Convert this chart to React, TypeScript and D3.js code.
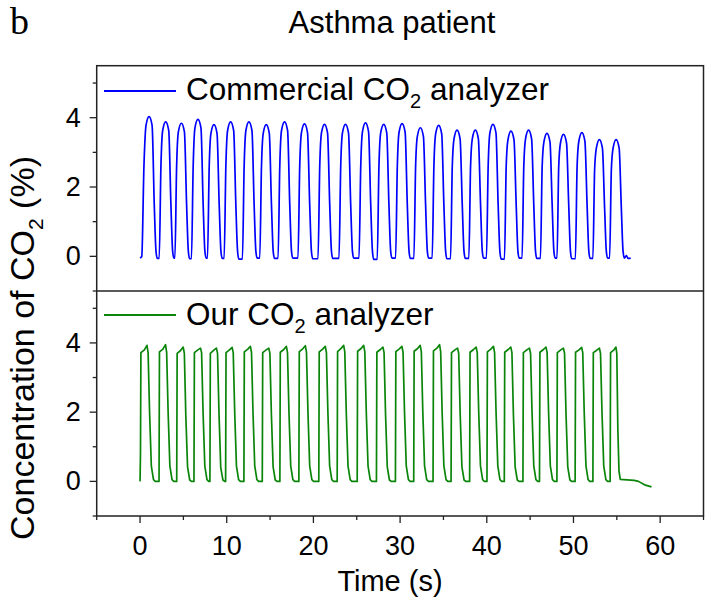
import React from 'react'
import { scaleLinear, line, curveMonotoneX, curveLinear } from 'd3'

// Ticks
const timeTicks = [0, 10, 20, 30, 40, 50, 60]
const timeMinor = [-5, 5, 15, 25, 35, 45, 55, 65]
const concTicks = [0, 2, 4]
const concMinor = [-1, 1, 3, 5]

// Commercial analyzer (blue), [time s, CO2 %]
const commercialCO2 = [
  [0, -0.05], [0.2, 0], [0.45, 2.6], [0.69, 3.78], [1.04, 4.03], [1.39, 3.78], [1.64, 1.5], [1.84, 0.15], [1.99, -0.06],
  [2.21, -0.06], [2.41, 2.6], [2.61, 3.63], [2.96, 3.88], [3.31, 3.63], [3.56, 1.5], [3.76, 0.15], [3.91, -0.05],
  [4.02, -0.05], [4.22, 2.6], [4.42, 3.59], [4.77, 3.84], [5.12, 3.59], [5.37, 1.5], [5.57, 0.15], [5.72, -0.07],
  [5.93, -0.07], [6.13, 2.6], [6.33, 3.7], [6.68, 3.95], [7.03, 3.7], [7.28, 1.5], [7.48, 0.15], [7.63, -0.05],
  [7.78, -0.05], [7.98, 2.6], [8.18, 3.55], [8.53, 3.8], [8.88, 3.55], [9.13, 1.5], [9.33, 0.15], [9.48, -0.06],
  [9.7, -0.06], [9.9, 2.6], [10.1, 3.63], [10.45, 3.88], [10.8, 3.63], [11.05, 1.5], [11.25, 0.15], [11.4, -0.08],
  [11.81, -0.08], [12.01, 2.6], [12.21, 3.63], [12.56, 3.88], [12.91, 3.63], [13.16, 1.5], [13.36, 0.15], [13.51, -0.05],
  [13.81, -0.05], [14.01, 2.6], [14.21, 3.55], [14.56, 3.8], [14.91, 3.55], [15.16, 1.5], [15.36, 0.15], [15.51, -0.06],
  [15.92, -0.06], [16.12, 2.6], [16.32, 3.63], [16.67, 3.88], [17.02, 3.63], [17.27, 1.5], [17.47, 0.15], [17.62, -0.05],
  [18.22, -0.05], [18.42, 2.6], [18.62, 3.57], [18.97, 3.82], [19.32, 3.57], [19.57, 1.5], [19.77, 0.15], [19.92, -0.07],
  [20.53, -0.07], [20.73, 2.6], [20.93, 3.56], [21.28, 3.81], [21.63, 3.56], [21.88, 1.5], [22.08, 0.15], [22.23, -0.06],
  [22.95, -0.06], [23.15, 2.6], [23.35, 3.56], [23.7, 3.81], [24.05, 3.56], [24.3, 1.5], [24.5, 0.15], [24.65, -0.05],
  [25.26, -0.05], [25.46, 2.6], [25.66, 3.6], [26.01, 3.85], [26.36, 3.6], [26.61, 1.5], [26.81, 0.15], [26.96, -0.09],
  [27.36, -0.09], [27.56, 2.6], [27.76, 3.56], [28.11, 3.81], [28.46, 3.56], [28.71, 1.5], [28.91, 0.15], [29.06, -0.05],
  [29.48, -0.05], [29.68, 2.6], [29.88, 3.58], [30.23, 3.83], [30.58, 3.58], [30.83, 1.5], [31.03, 0.15], [31.18, -0.06],
  [31.59, -0.06], [31.79, 2.6], [31.99, 3.46], [32.34, 3.71], [32.69, 3.46], [32.94, 1.5], [33.14, 0.15], [33.29, -0.05],
  [33.7, -0.05], [33.9, 2.6], [34.1, 3.53], [34.45, 3.78], [34.8, 3.53], [35.05, 1.5], [35.25, 0.15], [35.4, -0.07],
  [35.82, -0.07], [36.02, 2.6], [36.22, 3.39], [36.57, 3.64], [36.92, 3.39], [37.17, 1.5], [37.37, 0.15], [37.52, -0.06],
  [37.93, -0.06], [38.13, 2.6], [38.33, 3.39], [38.68, 3.64], [39.03, 3.39], [39.28, 1.5], [39.48, 0.15], [39.63, -0.05],
  [39.96, -0.05], [40.16, 2.6], [40.36, 3.56], [40.71, 3.81], [41.06, 3.56], [41.31, 1.5], [41.51, 0.15], [41.66, -0.08],
  [42.04, -0.08], [42.24, 2.6], [42.44, 3.36], [42.79, 3.61], [43.14, 3.36], [43.39, 1.5], [43.59, 0.15], [43.74, -0.05],
  [44.07, -0.05], [44.27, 2.6], [44.47, 3.39], [44.82, 3.64], [45.17, 3.39], [45.42, 1.5], [45.62, 0.15], [45.77, -0.06],
  [46.19, -0.06], [46.39, 2.6], [46.59, 3.3], [46.94, 3.55], [47.29, 3.3], [47.54, 1.5], [47.74, 0.15], [47.89, -0.05],
  [48.1, -0.05], [48.3, 2.6], [48.5, 3.27], [48.85, 3.52], [49.2, 3.27], [49.45, 1.5], [49.65, 0.15], [49.8, -0.07],
  [50.22, -0.07], [50.42, 2.6], [50.62, 3.32], [50.97, 3.57], [51.32, 3.32], [51.57, 1.5], [51.77, 0.15], [51.92, -0.06],
  [52.24, -0.06], [52.44, 2.5], [52.64, 3.12], [52.99, 3.37], [53.34, 3.12], [53.59, 1.4], [53.79, 0.15], [53.94, -0.05],
  [54.17, -0.05], [54.37, 2.5], [54.57, 3.12], [54.92, 3.37], [55.27, 3.12], [55.52, 1.4], [55.72, 0.15], [55.87, -0.05],
  [56.1, 0.02], [56.3, -0.06], [56.6, -0.05],
]

// Our analyzer (green)
const ourCO2 = [
  [0, 0], [0.05, 0.8], [0.1, 3.72], [0.5, 3.8], [0.8, 3.93], [0.93, 3.72], [1.1, 2.0], [1.3, 0.45], [1.55, 0.05], [1.75, 0],
  [2.19, 0], [2.24, 3.74], [2.64, 3.82], [2.94, 3.95], [3.07, 3.72], [3.24, 2.0], [3.44, 0.45], [3.69, 0.05], [3.89, 0],
  [4.23, 0], [4.28, 3.7], [4.68, 3.78], [4.98, 3.88], [5.11, 3.7], [5.28, 1.9], [5.48, 0.42], [5.73, 0.04], [5.93, 0],
  [6.22, 0], [6.27, 3.72], [6.67, 3.8], [6.97, 3.85], [7.1, 3.72], [7.27, 2.0], [7.47, 0.45], [7.72, 0.05], [7.92, 0],
  [8.06, 0], [8.11, 3.7], [8.51, 3.79], [8.81, 3.85], [8.94, 3.7], [9.11, 1.95], [9.31, 0.4], [9.56, 0.04], [9.76, 0],
  [9.87, 0], [9.92, 3.72], [10.32, 3.8], [10.62, 3.87], [10.75, 3.72], [10.92, 2.0], [11.12, 0.45], [11.37, 0.05], [11.57, 0],
  [11.98, 0], [12.03, 3.74], [12.43, 3.82], [12.73, 3.9], [12.86, 3.72], [13.03, 2.0], [13.23, 0.45], [13.48, 0.05], [13.68, 0],
  [14.1, 0], [14.15, 3.72], [14.55, 3.8], [14.85, 3.85], [14.98, 3.7], [15.15, 1.95], [15.35, 0.42], [15.6, 0.04], [15.8, 0],
  [16.13, 0], [16.18, 3.73], [16.58, 3.81], [16.88, 3.9], [17.01, 3.72], [17.18, 2.0], [17.38, 0.45], [17.63, 0.05], [17.83, 0],
  [18.32, 0], [18.37, 3.75], [18.77, 3.83], [19.07, 3.92], [19.2, 3.73], [19.37, 2.0], [19.57, 0.45], [19.82, 0.05], [20.02, 0],
  [20.62, 0], [20.67, 3.74], [21.07, 3.82], [21.37, 3.9], [21.5, 3.72], [21.67, 2.0], [21.87, 0.45], [22.12, 0.05], [22.32, 0],
  [22.74, 0], [22.79, 3.75], [23.19, 3.84], [23.49, 3.93], [23.62, 3.74], [23.79, 2.0], [23.99, 0.45], [24.24, 0.05], [24.44, 0],
  [25.05, 0], [25.1, 3.76], [25.5, 3.84], [25.8, 3.93], [25.93, 3.74], [26.1, 2.0], [26.3, 0.45], [26.55, 0.05], [26.75, 0],
  [27.27, 0], [27.32, 3.73], [27.72, 3.81], [28.02, 3.88], [28.15, 3.72], [28.32, 1.95], [28.52, 0.42], [28.77, 0.04], [28.97, 0],
  [29.46, 0], [29.51, 3.75], [29.91, 3.83], [30.21, 3.9], [30.34, 3.73], [30.51, 2.0], [30.71, 0.45], [30.96, 0.05], [31.16, 0],
  [31.57, 0], [31.62, 3.76], [32.02, 3.84], [32.32, 3.93], [32.45, 3.74], [32.62, 2.0], [32.82, 0.45], [33.07, 0.05], [33.27, 0],
  [33.8, 0], [33.85, 3.77], [34.25, 3.85], [34.55, 3.95], [34.68, 3.75], [34.85, 2.0], [35.05, 0.45], [35.3, 0.05], [35.5, 0],
  [35.88, 0], [35.93, 3.72], [36.33, 3.8], [36.63, 3.85], [36.76, 3.7], [36.93, 1.95], [37.13, 0.42], [37.38, 0.04], [37.58, 0],
  [38.02, 0], [38.07, 3.73], [38.47, 3.81], [38.77, 3.88], [38.9, 3.72], [39.07, 2.0], [39.27, 0.45], [39.52, 0.05], [39.72, 0],
  [40.02, 0], [40.07, 3.74], [40.47, 3.82], [40.77, 3.9], [40.9, 3.72], [41.07, 2.0], [41.27, 0.45], [41.52, 0.05], [41.72, 0],
  [42.02, 0], [42.07, 3.73], [42.47, 3.81], [42.77, 3.88], [42.9, 3.72], [43.07, 1.95], [43.27, 0.42], [43.52, 0.04], [43.72, 0],
  [44.17, 0], [44.22, 3.72], [44.62, 3.8], [44.92, 3.85], [45.05, 3.7], [45.22, 2.0], [45.42, 0.45], [45.67, 0.05], [45.87, 0],
  [46.08, 0], [46.13, 3.73], [46.53, 3.81], [46.83, 3.88], [46.96, 3.72], [47.13, 2.0], [47.33, 0.45], [47.58, 0.05], [47.78, 0],
  [48.09, 0], [48.14, 3.72], [48.54, 3.8], [48.84, 3.85], [48.97, 3.7], [49.14, 1.95], [49.34, 0.42], [49.59, 0.04], [49.79, 0],
  [50.19, 0], [50.24, 3.73], [50.64, 3.8], [50.94, 3.87], [51.07, 3.72], [51.24, 2.0], [51.44, 0.45], [51.69, 0.05], [51.89, 0],
  [52.24, 0], [52.29, 3.72], [52.69, 3.79], [52.99, 3.85], [53.12, 3.7], [53.29, 2.0], [53.49, 0.45], [53.74, 0.05], [53.94, 0],
  [54.23, 0], [54.28, 3.72], [54.68, 3.8], [54.9, 3.88], [55.0, 3.7], [55.12, 1.5], [55.25, 0.3], [55.4, 0.06],
  [57.0, 0.03], [57.5, 0.0], [58.2, -0.1], [59.0, -0.16],
]

const font = 'Arial, "Liberation Sans", sans-serif'

const App = () => {
  const W = 712
  const H = 608

  // Axis
  const xScale = scaleLinear().domain([-5, 65]).range([96.7, 703.5])
  const yTop = scaleLinear().domain([-1, 5.5]).range([291, 65.7])
  const yBot = scaleLinear().domain([-1, 5.5]).range([516, 291])

  const blueLine = line()
    .x(d => xScale(d[0]))
    .y(d => yTop(d[1]))
    .curve(curveMonotoneX)
  const greenLine = line()
    .x(d => xScale(d[0]))
    .y(d => yBot(d[1]))
    .curve(curveLinear)

  const left = xScale(-5)
  const right = xScale(65)
  const top = yTop(5.5)
  const mid = yTop(-1)
  const bottom = yBot(-1)

  const yAxisTicks = (scale, key) => (
    <g key={key}>
      {concTicks.map(v => (
        <g key={'M' + v}>
          <line x1={left - 7} x2={left} y1={scale(v)} y2={scale(v)} stroke="#222" strokeWidth={1.3} />
          <text x={left - 16} y={scale(v) + 9} textAnchor="end" fontSize={27} fontFamily={font}>{v}</text>
        </g>
      ))}
      {concMinor.map(v => (
        <line key={'m' + v} x1={left - 4} x2={left} y1={scale(v)} y2={scale(v)} stroke="#222" strokeWidth={1.3} />
      ))}
    </g>
  )

  return (
    <svg width={W} height={H} style={{ position: 'absolute', left: 0, top: 0, background: '#fff' }}>
      <text x={10} y={34} fontSize={38} fontFamily='"Liberation Serif", "Times New Roman", serif'>b</text>
      <text x={392} y={33} textAnchor="middle" fontSize={31} fontFamily={font}>Asthma patient</text>

      {/* Data */}
      <path d={blueLine(commercialCO2)} fill="none" stroke="#0000ff" strokeWidth={1.7} strokeLinejoin="round" />
      <path d={greenLine(ourCO2)} fill="none" stroke="#0a850a" strokeWidth={1.7} strokeLinejoin="round" />

      {/* Frame */}
      <rect x={left} y={top} width={right - left} height={bottom - top} fill="none" stroke="#222" strokeWidth={1.5} />
      <line x1={left} x2={right} y1={mid} y2={mid} stroke="#222" strokeWidth={1.5} />

      {yAxisTicks(yTop, 'top')}
      {yAxisTicks(yBot, 'bot')}

      {timeTicks.map(v => (
        <g key={'x' + v}>
          <line x1={xScale(v)} x2={xScale(v)} y1={bottom} y2={bottom + 7} stroke="#222" strokeWidth={1.3} />
          <text x={xScale(v)} y={bottom + 39} textAnchor="middle" fontSize={27} fontFamily={font}>{v}</text>
        </g>
      ))}
      {timeMinor.map(v => (
        <line key={'xm' + v} x1={xScale(v)} x2={xScale(v)} y1={bottom} y2={bottom + 4} stroke="#222" strokeWidth={1.3} />
      ))}

      {/* Legends */}
      <line x1={104} x2={176} y1={91} y2={91} stroke="#0000ff" strokeWidth={2} />
      <text x={186} y={100} fontSize={31.5} fontFamily={font}>
        Commercial CO<tspan fontSize={20} dy={8}>2</tspan><tspan dy={-8}> analyzer</tspan>
      </text>
      <line x1={104} x2={176} y1={315} y2={315} stroke="#0a850a" strokeWidth={2} />
      <text x={186} y={325} fontSize={31.5} fontFamily={font}>
        Our CO<tspan fontSize={20} dy={8}>2</tspan><tspan dy={-8}> analyzer</tspan>
      </text>

      {/* Axis titles */}
      <text x={390} y={591} textAnchor="middle" fontSize={29} fontFamily={font}>Time (s)</text>
      <text transform="translate(34, 348) rotate(-90)" textAnchor="middle" fontSize={34} fontFamily={font}>
        Concentration of CO<tspan fontSize={21} dy={9}>2</tspan><tspan dy={-9}> (%)</tspan>
      </text>
    </svg>
  )
}

export default App
